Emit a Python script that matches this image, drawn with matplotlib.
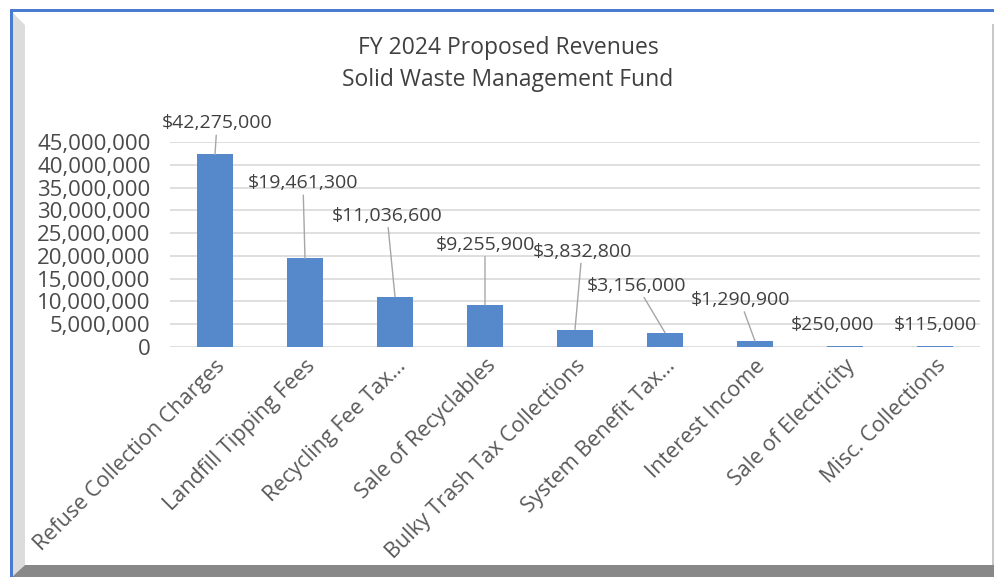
import matplotlib.pyplot as plt
from matplotlib.patches import Polygon, Rectangle
from matplotlib.ticker import FuncFormatter

# ----- Data -------------------------------------------------

categories = ["Refuse Collection Charges", "Landfill Tipping Fees", "Recycling Fee Tax…",
              "Sale of Recyclables", "Bulky Trash Tax Collections", "System Benefit Tax…",
              "Interest Income", "Sale of Electricity", "Misc. Collections"]
revenues = [42275000, 19461300, 11036600, 9255900, 3832800, 3156000, 1290900, 250000, 115000]

# label placement (pixels from bar top), layout only
label_dx = [2, -2, -8, 0, 7, -28, -15, -12, 0]
label_dy = [31, 75, 81, 60, 78, 47, 41, 21, 21]

W, H = 994, 577
bar_color = "#5689cb"
text_gray = "#595959"

plt.rcParams['font.family'] = ['Open Sans', 'DejaVu Sans']

fig = plt.figure(figsize=(W / 100, H / 100), dpi=100)

def px(x, y):
    return (x / W, 1 - y / H)

# ----- Frame -------------------------------------------------

fig.patches.append(Polygon([px(12, 12), px(25, 25), px(25, 565), px(12, 577)], closed=True,
                           transform=fig.transFigure, facecolor="#dcdcdc", edgecolor="none"))
fig.patches.append(Polygon([px(12, 577), px(25, 565), px(994, 565), px(994, 577)], closed=True,
                           transform=fig.transFigure, facecolor="#888888", edgecolor="none"))
fig.patches.append(Rectangle(px(992, 565), 1.5 / W, 541 / H, transform=fig.transFigure,
                             facecolor="#c8c8c8", edgecolor="none"))
fig.patches.append(Rectangle(px(10, 12), 984 / W, 3 / H, transform=fig.transFigure,
                             facecolor="#4a7bd0", edgecolor="none"))
fig.patches.append(Rectangle(px(10, 577), 2.5 / W, 568 / H, transform=fig.transFigure,
                             facecolor="#4a7bd0", edgecolor="none"))

# ----- Plot -------------------------------------------------

left, bottom = px(170, 347)
right, top = px(980, 142)
ax = fig.add_axes([left, bottom, right - left, top - bottom])

x = range(len(categories))
ax.bar(x, revenues, width=0.4, color=bar_color, zorder=3)
ax.set_xlim(-0.5, len(categories) - 0.5)
ax.set_ylim(0, 45000000)
ax.set_yticks(range(0, 45000001, 5000000))
ax.yaxis.set_major_formatter(FuncFormatter(lambda v, p: "{:,.0f}".format(v)))
ax.grid(axis='y', color="#d9d9d9", lw=1.2, zorder=0)
for s in ax.spines.values():
    s.set_visible(False)
ax.tick_params(length=0)
ax.tick_params(axis='y', labelsize=16, labelcolor="#4a4a4a", pad=14)
ax.set_xticks(list(x))
ax.set_xticklabels(categories, rotation=45, ha='right', rotation_mode='anchor',
                   fontsize=15.5, color=text_gray)
ax.tick_params(axis='x', pad=6)

for i, v in enumerate(revenues):
    arrow = dict(arrowstyle='-', color="#a6a6a6", lw=1, shrinkA=0, shrinkB=0) if label_dy[i] > 30 else None
    ax.annotate("${:,}".format(v), xy=(i, v), xytext=(label_dx[i], label_dy[i]),
                textcoords='offset pixels', ha='center', va='center', fontsize=14,
                color="#404040", arrowprops=arrow, zorder=4)

fig.text(0.511, 1 - 48 / H, "FY 2024 Proposed Revenues", ha='center', va='center',
         fontsize=16.5, color="#404040")
fig.text(0.511, 1 - 80 / H, "Solid Waste Management Fund", ha='center', va='center',
         fontsize=16.5, color="#404040")

fig.savefig("out.png", dpi=100)
